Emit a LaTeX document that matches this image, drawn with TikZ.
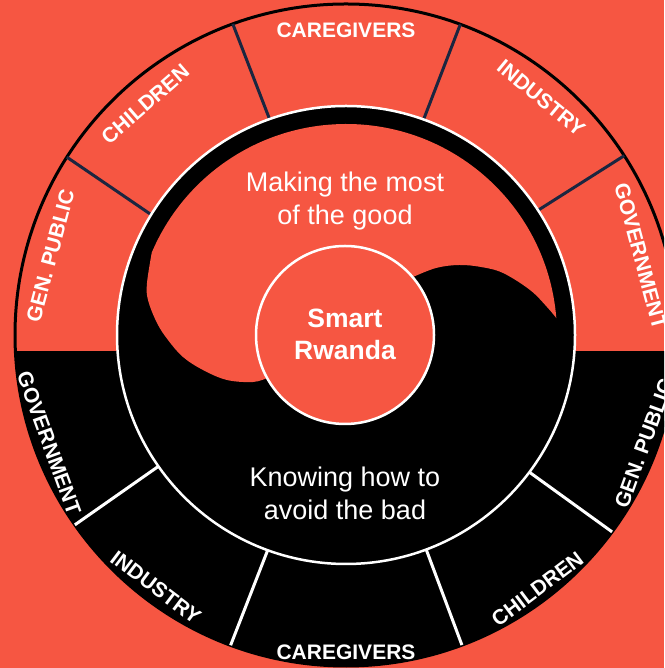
\documentclass[tikz,border=0pt]{standalone}
\usepackage{fontspec}
\setmainfont{Liberation Sans}
\definecolor{bg}{RGB}{246,86,66}
\definecolor{navy}{RGB}{27,38,64}
\begin{document}
\begin{tikzpicture}[x=1pt,y=1pt,
  seglab/.style={text=white,inner sep=0pt,font=\fontsize{21}{24}\selectfont\bfseries},
  midtxt/.style={text=white,inner sep=0pt,anchor=base,font=\fontsize{27}{32}\selectfont},
  ctrtxt/.style={text=white,inner sep=0pt,anchor=base,font=\fontsize{26.5}{32}\selectfont\bfseries},
  topsep/.style={draw=navy,line width=3pt},
  botsep/.style={draw=white,line width=3pt}]
\useasboundingbox (0,0) rectangle (664,668);
\fill[bg] (0,0) rectangle (664,668);
\begin{scope}
\clip (0,0) rectangle (664,668);
\begin{scope}[shift={(346,333)}]
  % lower half of outer ring
  \begin{scope}
    \clip (-400,-17) rectangle (400,-400);
    \fill[black] (0,0) circle[radius=331];
  \end{scope}
  \draw[black,line width=3pt] (0,0) circle[radius=331];
  % separators
  \draw[topsep] (148.3:229) -- (147.5:331);
  \draw[topsep] (109.5:229) -- (110:331);
  \draw[topsep] (70.2:229) -- (69.8:331);
  \draw[topsep] (33:229) -- (32.8:331);
  \draw[botsep] (215:229) -- (215:331);
  \draw[botsep] (250:229) -- (249.6:331);
  \draw[botsep] (290.5:229) -- (290.5:331);
  \draw[botsep] (323.2:229) -- (323.5:331);
  % inner disc
  \fill[black] (0,0) circle[radius=229];
  \fill[bg] (4.6:211) arc[start angle=4.6, end angle=157, radius=211]
    -- plot[smooth, tension=0.6] coordinates {(157:211) (-199,52) (-198,35) (-189,12) (-178,-5) (-163,-22) (-143,-35) (-119,-45) (-93,-47) (-79,-43)}
    -- (67,58)
    -- plot[smooth, tension=0.6] coordinates {(67,58) (90,67) (113,70) (135,68) (157,62) (184,45) (201,28) (210.3,16.9)}
    -- cycle;
  \filldraw[fill=bg,draw=white,line width=2.5pt] (-1,0) circle[radius=89];
  \draw[white,line width=2.5pt] (0,0) circle[radius=229];
  % ring labels, top
  \node[seglab,rotate=75] (tgp) at (165:306) {GEN. PUBLIC};
  \node[seglab,rotate=41] (tch) at (131:306) {CHILDREN};
  \node[seglab] (tca) at (90:305) {CAREGIVERS};
  \node[seglab,rotate=-39.5] (tin) at (50.5:307) {INDUSTRY};
  \node[seglab,rotate=-75] (tgo) at (15:305) {GOVERNMENT};
  % ring labels, bottom
  \node[seglab,rotate=-70] (bgo) at (200:316) {GOVERNMENT};
  \node[seglab,rotate=-37] (bin) at (233:316) {INDUSTRY};
  \node[seglab] (bca) at (270:317) {CAREGIVERS};
  \node[seglab,rotate=37] (bch) at (307:318) {CHILDREN};
  \node[seglab,rotate=70] (bgp) at (340:317) {GEN. PUBLIC};
  % central texts
  \node[midtxt] (g1) at (-1,143) {Making the most};
  \node[midtxt] (g2) at (-1,110) {of the good};
  \node[ctrtxt] (s1) at (-1,7) {Smart};
  \node[ctrtxt] (s2) at (-1,-25) {Rwanda};
  \node[midtxt] (b1) at (-1,-152) {Knowing how to};
  \node[midtxt] (b2) at (-1,-185) {avoid the bad};
\end{scope}
\end{scope}
\end{tikzpicture}
\end{document}
